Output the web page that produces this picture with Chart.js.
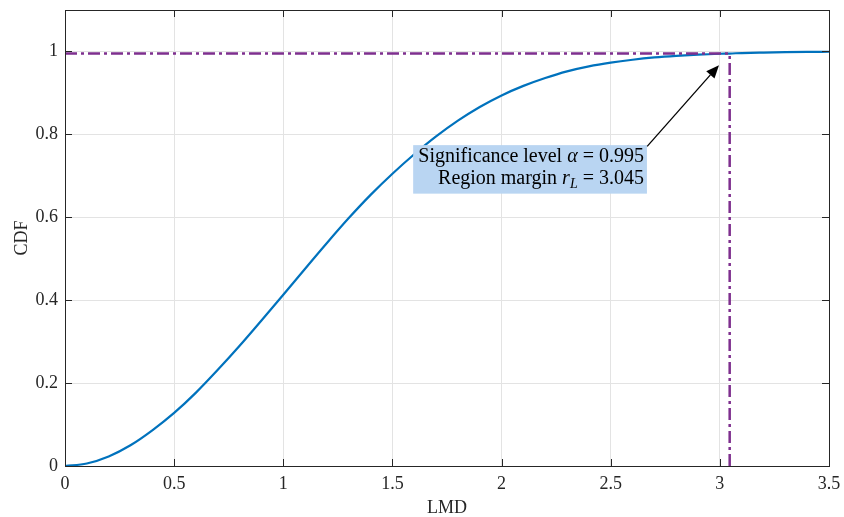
<!DOCTYPE html>
<html>
<head>
<meta charset="utf-8">
<script src="https://cdn.jsdelivr.net/npm/chart.js@4.4.1/dist/chart.umd.min.js"></script>
<style>
  html, body { margin: 0; padding: 0; background: #fff; }
</style>
</head>
<body>
<canvas id="cdfChart" width="844" height="517"></canvas>
<script>
// CDF of the LMD statistic, sampled along the x axis
const lmd = [0, 0.1, 0.2, 0.3, 0.4, 0.5, 0.6, 0.7, 0.8, 0.9, 1.0, 1.1, 1.2, 1.3, 1.4, 1.5,
  1.6, 1.7, 1.8, 1.9, 2.0, 2.1, 2.2, 2.3, 2.4, 2.5, 2.6, 2.7, 2.8, 2.9, 3.0, 3.045, 3.1, 3.2, 3.3, 3.4, 3.5];
const cdf = [0, 0.006, 0.023, 0.05, 0.086, 0.128, 0.177, 0.232, 0.29, 0.351, 0.413, 0.476, 0.538, 0.598, 0.654, 0.705,
  0.752, 0.795, 0.833, 0.866, 0.894, 0.917, 0.936, 0.952, 0.964, 0.973, 0.98, 0.9855, 0.9895, 0.9925, 0.9945, 0.995,
  0.9962, 0.9974, 0.9983, 0.9989, 0.9993];

// significance level and the matching region margin
const alpha = 0.995;
const rL = 3.045;

const xTicks = [0, 0.5, 1, 1.5, 2, 2.5, 3, 3.5];
const yTicks = [0, 0.2, 0.4, 0.6, 0.8, 1];
const xLabels = ['0', '0.5', '1', '1.5', '2', '2.5', '3', '3.5'];
const yLabels = ['0', '0.2', '0.4', '0.6', '0.8', '1'];

// text box and arrow, in axis units
const noteBox = { x0: 1.595, x1: 2.666, y0: 0.657, y1: 0.774 };
const arrowFrom = { x: 2.667, y: 0.771 };
const arrowTo = { x: 2.996, y: 0.967 };

const SERIF = '"Liberation Serif", "Times New Roman", serif';
const AXIS_COLOR = '#262626';
const PURPLE = '#7E2F8E';
const dashDot = [12, 4, 3, 4];

// box with inward ticks on all four sides
const framePlugin = {
  id: 'frame',
  afterDatasetsDraw(chart) {
    const { ctx, chartArea: a, scales } = chart;
    ctx.save();
    ctx.strokeStyle = AXIS_COLOR;
    ctx.lineWidth = 1;
    ctx.strokeRect(Math.round(a.left) + 0.5, Math.round(a.top) + 0.5,
      Math.round(a.right - a.left), Math.round(a.bottom - a.top));
    const len = 7;
    ctx.beginPath();
    scales.x.ticks.forEach(t => {
      const px = Math.round(scales.x.getPixelForValue(t.value)) + 0.5;
      ctx.moveTo(px, a.bottom); ctx.lineTo(px, a.bottom - len);
      ctx.moveTo(px, a.top); ctx.lineTo(px, a.top + len);
    });
    scales.y.ticks.forEach(t => {
      const py = Math.round(scales.y.getPixelForValue(t.value)) + 0.5;
      ctx.moveTo(a.left, py); ctx.lineTo(a.left + len, py);
      ctx.moveTo(a.right, py); ctx.lineTo(a.right - len, py);
    });
    ctx.stroke();
    ctx.restore();
  }
};

function drawRuns(ctx, runs, right, baseline) {
  let total = 0;
  runs.forEach(r => { ctx.font = r.font; total += ctx.measureText(r.text).width; });
  let x = right - total;
  runs.forEach(r => {
    ctx.font = r.font;
    ctx.fillText(r.text, x, baseline + (r.dy || 0));
    x += ctx.measureText(r.text).width;
  });
}

const notePlugin = {
  id: 'note',
  afterDraw(chart) {
    const { ctx, scales: { x, y } } = chart;
    const bx0 = x.getPixelForValue(noteBox.x0), bx1 = x.getPixelForValue(noteBox.x1);
    const by0 = y.getPixelForValue(noteBox.y1), by1 = y.getPixelForValue(noteBox.y0);
    ctx.save();
    ctx.fillStyle = '#B9D5F2';
    ctx.fillRect(bx0, by0, bx1 - bx0, by1 - by0);

    const roman = '20px ' + SERIF;
    const ital = 'italic 20px ' + SERIF;
    const sub = 'italic 14px ' + SERIF;
    ctx.fillStyle = '#000';
    ctx.textBaseline = 'alphabetic';
    ctx.textAlign = 'left';
    drawRuns(ctx, [
      { text: 'Significance level ', font: roman },
      { text: 'α', font: ital },
      { text: ' = 0.995', font: roman }
    ], bx1 - 3, by0 + 17);
    drawRuns(ctx, [
      { text: 'Region margin ', font: roman },
      { text: 'r', font: ital },
      { text: 'L', font: sub, dy: 4 },
      { text: ' = 3.045', font: roman }
    ], bx1 - 3, by0 + 39);

    // arrow from the box corner to the curve
    const ax0 = x.getPixelForValue(arrowFrom.x), ay0 = y.getPixelForValue(arrowFrom.y);
    const ax1 = x.getPixelForValue(arrowTo.x), ay1 = y.getPixelForValue(arrowTo.y);
    const ang = Math.atan2(ay1 - ay0, ax1 - ax0);
    const headLen = 13, headW = 5.5;
    const hx = ax1 - headLen * Math.cos(ang), hy = ay1 - headLen * Math.sin(ang);
    ctx.strokeStyle = '#000';
    ctx.lineWidth = 1.3;
    ctx.beginPath();
    ctx.moveTo(ax0, ay0);
    ctx.lineTo(hx, hy);
    ctx.stroke();
    ctx.beginPath();
    ctx.moveTo(ax1, ay1);
    ctx.lineTo(hx + headW * Math.sin(ang), hy - headW * Math.cos(ang));
    ctx.lineTo(hx - headW * Math.sin(ang), hy + headW * Math.cos(ang));
    ctx.closePath();
    ctx.fillStyle = '#000';
    ctx.fill();
    ctx.restore();
  }
};

new Chart(document.getElementById('cdfChart'), {
  type: 'line',
  data: {
    datasets: [
      {
        data: [{ x: 0, y: alpha }, { x: rL, y: alpha }],
        borderColor: PURPLE, borderWidth: 2.5, borderDash: dashDot,
        pointRadius: 0
      },
      {
        data: [{ x: rL, y: 0 }, { x: rL, y: alpha }],
        borderColor: PURPLE, borderWidth: 2.5, borderDash: dashDot,
        pointRadius: 0
      },
      {
        data: lmd.map((v, i) => ({ x: v, y: cdf[i] })),
        borderColor: '#0072BD', borderWidth: 2.2,
        pointRadius: 0, cubicInterpolationMode: 'monotone'
      }
    ]
  },
  options: {
    responsive: false,
    animation: false,
    layout: { padding: { top: 10, right: 15, left: 0, bottom: 0 } },
    plugins: { legend: { display: false }, tooltip: { enabled: false } },
    scales: {
      x: {
        type: 'linear', min: 0, max: 3.5,
        afterBuildTicks: s => { s.ticks = xTicks.map(v => ({ value: v })); },
        afterFit: s => { s.height = 51; s.paddingLeft = 0; s.paddingRight = 0; },
        grid: { color: '#E3E3E3', drawTicks: false },
        border: { display: false },
        ticks: {
          padding: 7, color: AXIS_COLOR, maxRotation: 0,
          font: { family: SERIF, size: 18 },
          callback: (v, i) => xLabels[i]
        },
        title: {
          display: true, text: 'LMD', color: AXIS_COLOR,
          font: { family: SERIF, size: 18, lineHeight: 1 }, padding: { top: 0, bottom: 0 }
        }
      },
      y: {
        min: 0, max: 1.1,
        afterBuildTicks: s => { s.ticks = yTicks.map(v => ({ value: v })); },
        afterFit: s => { s.width = 65; s.paddingTop = 0; s.paddingBottom = 0; },
        grid: { color: '#E3E3E3', drawTicks: false },
        border: { display: false },
        ticks: {
          padding: 7, color: AXIS_COLOR,
          font: { family: SERIF, size: 18 },
          callback: (v, i) => yLabels[i]
        },
        title: {
          display: true, text: 'CDF', color: AXIS_COLOR,
          font: { family: SERIF, size: 18 }, padding: { top: 11, bottom: 0 }
        }
      }
    }
  },
  plugins: [framePlugin, notePlugin]
});
</script>
</body>
</html>
